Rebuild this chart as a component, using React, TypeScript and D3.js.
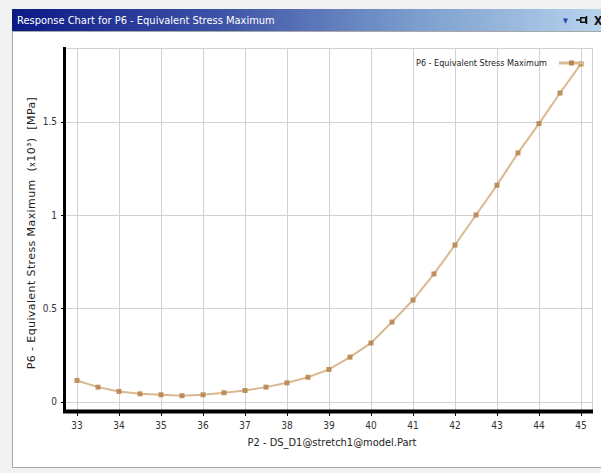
import React from "react";
import * as d3 from "d3";

const xValues = [33, 33.5, 34, 34.5, 35, 35.5, 36, 36.5, 37, 37.5, 38, 38.5, 39, 39.5, 40, 40.5, 41, 41.5, 42, 42.5, 43, 43.5, 44, 44.5, 45];
const stressValues = [0.113, 0.077, 0.054, 0.041, 0.036, 0.031, 0.036, 0.047, 0.059, 0.077, 0.1, 0.13, 0.172, 0.238, 0.314, 0.426, 0.544, 0.684, 0.839, 1.0, 1.16, 1.333, 1.49, 1.654, 1.81];
const xTicks = [33, 34, 35, 36, 37, 38, 39, 40, 41, 42, 43, 44, 45];
const yTicks = [0, 0.5, 1, 1.5];
const yTickLabels = ["0", "0.5", "1", "1.5"];
const chartTitle = "Response Chart for P6 - Equivalent Stress Maximum";
const seriesName = "P6 - Equivalent Stress Maximum";
const xLabel = "P2 - DS_D1@stretch1@model.Part";

const W = 601;
const H = 473;

export default function App() {
  const x = d3.scaleLinear().domain([33, 45]).range([77, 581]);
  const y = d3.scaleLinear().domain([0, 1.5]).range([401.5, 121.75]);
  const plotLeft = 65;
  const plotRight = 592;
  const plotTop = 48;
  const plotBottom = 410;
  const pts: [number, number][] = xValues.map((v, i) => [v, stressValues[i]]);
  const line = d3.line<[number, number]>().x((d) => x(d[0])).y((d) => y(d[1]));
  const font = "'DejaVu Sans Condensed', 'DejaVu Sans', sans-serif";
  const lineColor = "#dab892";
  const markerColor = "#b98650";

  return (
    <svg width={W} height={H} style={{ position: "absolute", left: 0, top: 0 }} fontFamily={font}>
      <defs>
        <linearGradient id="tb" x1="0" x2="1" y1="0" y2="0">
          <stop offset="0" stopColor="#0c1a86" />
          <stop offset="0.35" stopColor="#3c52a6" />
          <stop offset="0.7" stopColor="#7fa0cf" />
          <stop offset="1" stopColor="#b6d2ec" />
        </linearGradient>
      </defs>
      <rect x={0} y={0} width={W} height={H} fill="#f2f2f2" />
      <rect x={12.5} y={31.5} width={W} height={436} fill="#ffffff" stroke="#a8a8a8" />
      <rect x={12} y={9} width={W - 12} height={22} fill="url(#tb)" />
      <text x={17} y={24} fill="#ffffff" fontSize={11} fontFamily={font}>{chartTitle}</text>
      <text x={563} y={23} fill="#2a3fae" fontSize={7}>▼</text>
      <g stroke="#111" strokeWidth={1.5} fill="none">
        <line x1={576} y1={20} x2={580} y2={20} />
        <rect x={580.75} y={17.75} width={5} height={4.5} fill="none" />
        <line x1={586.5} y1={16} x2={586.5} y2={24} />
      </g>
      <text x={594} y={25} fill="#111" fontSize={12} fontWeight="bold">X</text>

      {/* grid */}
      <g stroke="#d2d2d2" strokeWidth={1}>
        {xTicks.map((t) => (
          <line key={"vx" + t} x1={Math.round(x(t)) + 0.5} x2={Math.round(x(t)) + 0.5} y1={plotTop} y2={plotBottom} />
        ))}
        {yTicks.map((t) => (
          <line key={"hy" + t} x1={plotLeft} x2={plotRight} y1={Math.round(y(t)) + 0.5} y2={Math.round(y(t)) + 0.5} />
        ))}
        <line x1={plotLeft} x2={plotRight + 0.5} y1={plotTop + 0.5} y2={plotTop + 0.5} />
        <line x1={plotRight + 0.5} x2={plotRight + 0.5} y1={plotTop} y2={plotBottom} />
      </g>

      {/* axes */}
      <line x1={64.5} x2={64.5} y1={47} y2={413} stroke="#000" strokeWidth={3} />
      <line x1={63} x2={593} y1={411.5} y2={411.5} stroke="#000" strokeWidth={4} />
      <g stroke="#000" strokeWidth={1}>
        {yTicks.map((t) => (
          <line key={"yt" + t} x1={61} x2={64} y1={Math.round(y(t)) + 0.5} y2={Math.round(y(t)) + 0.5} />
        ))}
        {xTicks.map((t) => (
          <line key={"xt" + t} x1={Math.round(x(t)) + 0.5} x2={Math.round(x(t)) + 0.5} y1={413} y2={416} />
        ))}
      </g>
      <g fontSize={10} fill="#333">
        {yTicks.map((t, i) => (
          <text key={"yl" + t} x={57} y={y(t) + 3.5} textAnchor="end">{yTickLabels[i]}</text>
        ))}
        {xTicks.map((t) => (
          <text key={"xl" + t} x={x(t)} y={428.5} textAnchor="middle">{t}</text>
        ))}
      </g>

      {/* series */}
      <path d={line(pts) || ""} fill="none" stroke={lineColor} strokeWidth={2} />
      {pts.map((p, i) => (
        <rect key={"m" + i} x={x(p[0]) - 2.5} y={y(p[1]) - 2.5} width={5} height={5} fill={markerColor} opacity={0.9} />
      ))}

      {/* legend */}
      <text x={416} y={66} fontSize={9} fill="#222">{seriesName}</text>
      <line x1={559} x2={584} y1={63} y2={63} stroke={lineColor} strokeWidth={3} />
      <rect x={569} y={60.5} width={5} height={5} fill={markerColor} />

      {/* axis titles */}
      <text x={332} y={446} fontSize={11} fill="#222" textAnchor="middle">{xLabel}</text>
      <text transform="translate(35,233) rotate(-90)" fontSize={11} fill="#222" textAnchor="middle" letterSpacing={0.4} fontFamily="'DejaVu Sans', sans-serif" style={{ whiteSpace: "pre" }}>
        {"P6 - Equivalent Stress Maximum  ("}<tspan fontSize={8}>x</tspan>{"10³)  [MPa]"}
      </text>
    </svg>
  );
}
